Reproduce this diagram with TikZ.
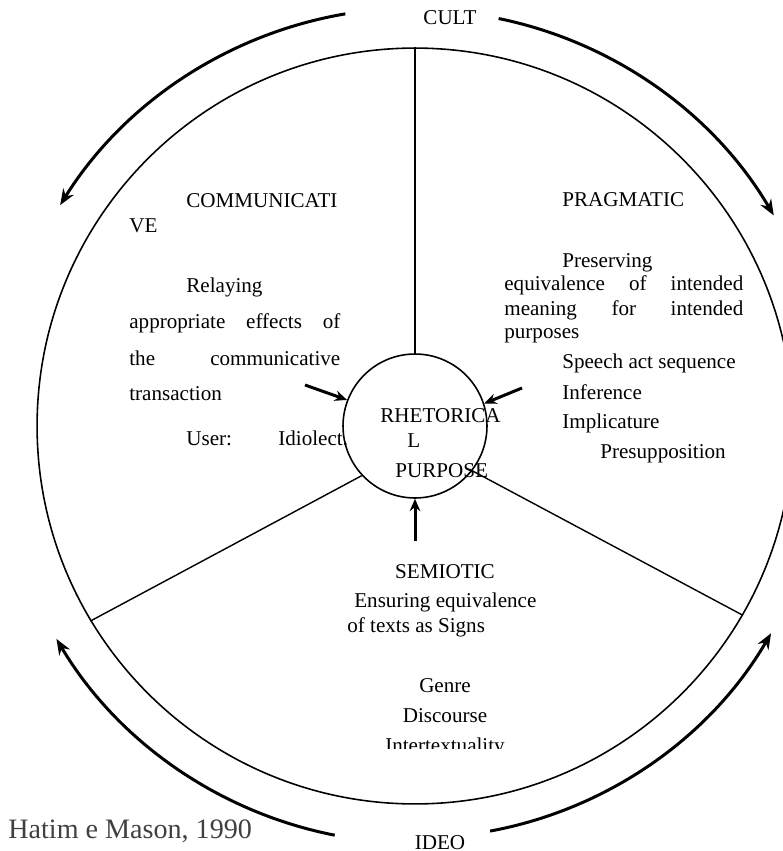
\documentclass[tikz,border=0pt]{standalone}
\usepackage{fontspec}
\setmainfont{Liberation Serif}
\usetikzlibrary{arrows.meta}

\begin{document}
\begin{tikzpicture}
[x=0.02cm,y=0.02cm
,txt/.style={anchor=base west,inner sep=0pt,font=\fontsize{12}{14}\selectfont}
,ctxt/.style={txt,anchor=base}
,ring/.style={circle,draw,line width=0.9pt,inner sep=0pt}
,sp/.style={line width=0.8pt}
,cyc/.style={line width=1.7pt,arrows={-Stealth[length=9pt,width=7pt]}}
,pa/.style={line width=1.7pt,arrows={-Stealth[length=7pt,width=6pt]}}]
\useasboundingbox (0,0) rectangle (783,-851);
\coordinate (c) at (415,-426);
\node[ring,minimum size=15.12cm] (outer) at (c) {};
\node[ring,minimum size=2.88cm] (rp) at (c) {};

\draw[sp] (rp.north) -- (outer.north);
\draw[sp] (rp.223) -- (outer.211.6);
\draw[sp] (rp.-38) -- (outer.-30.4);

\coordinate (pl) at (305,-385);
\coordinate (pr) at (522,-388);
\coordinate (pb) at (415,-541);
\draw[pa] (pl) -- (rp.159.4);
\draw[pa] (pr) -- (rp.18.7);
\draw[pa] (pb) -- (rp.south);

\draw[cyc] (c) ++(99.6:418) arc[start angle=99.6,end angle=148.1,radius=418];
\draw[cyc] (c) ++(78.4:416) arc[start angle=78.4,end angle=30.4,radius=416];
\draw[cyc] (c) ++(258.9:417) arc[start angle=258.9,end angle=210.7,radius=417];
\draw[cyc] (c) ++(280.5:412) arc[start angle=280.5,end angle=329.8,radius=412];

\node[ctxt] (cult) at (450,-25) {CULT};
\node[ctxt] (ideo) at (440,-849) {IDEO};

\node[txt] (com1) at (186,-208) {COMMUNICATI};
\node[txt] (com2) at (129,-232) {VE};
\node[txt] (com3) at (186,-292) {Relaying};
\node[txt] (com4) at (129,-328) {\makebox[4.22cm][s]{appropriate effects of}};
\node[txt] (com5) at (129,-365) {\makebox[4.22cm][s]{the communicative}};
\node[txt] (com6) at (129,-400) {transaction};
\node[txt] (com7) at (186,-445) {User:};
\node[txt] (com8) at (278,-445) {Idiolect.};

\node[txt] (pra1) at (562,-206) {PRAGMATIC};
\node[txt] (pra2) at (562,-267) {Preserving};
\node[txt] (pra3) at (504,-290) {\makebox[4.78cm][s]{equivalence of intended}};
\node[txt] (pra4) at (504,-315) {\makebox[4.78cm][s]{meaning for intended}};
\node[txt] (pra5) at (504,-338) {purposes};
\node[txt] (pra6) at (562,-368) {Speech act sequence};
\node[txt] (pra7) at (562,-399) {Inference};
\node[txt] (pra8) at (562,-428) {Implicature};
\node[txt] (pra9) at (600,-458) {Presupposition};

\node[txt] (rh1) at (380,-422) {RHETORICA};
\node[txt] (rh2) at (407,-447) {L};
\node[txt] (rh3) at (395,-477) {PURPOSE};

\node[ctxt] (sem1) at (445,-578) {SEMIOTIC};
\node[txt] (sem2) at (354,-607) {Ensuring equivalence};
\node[txt] (sem3) at (347,-632) {of texts as Signs};
\node[ctxt] (sem4) at (445,-692) {Genre};
\node[ctxt] (sem5) at (445,-722) {Discourse};
\begin{scope}
\clip (300,-700) rectangle (600,-748);
\node[ctxt] (sem6) at (445,-752) {Intertextuality};
\end{scope}

\node[txt,font=\fontsize{16}{18}\selectfont,text=black!75] (src) at (8,-838) {Hatim e Mason, 1990};
\end{tikzpicture}
\end{document}
